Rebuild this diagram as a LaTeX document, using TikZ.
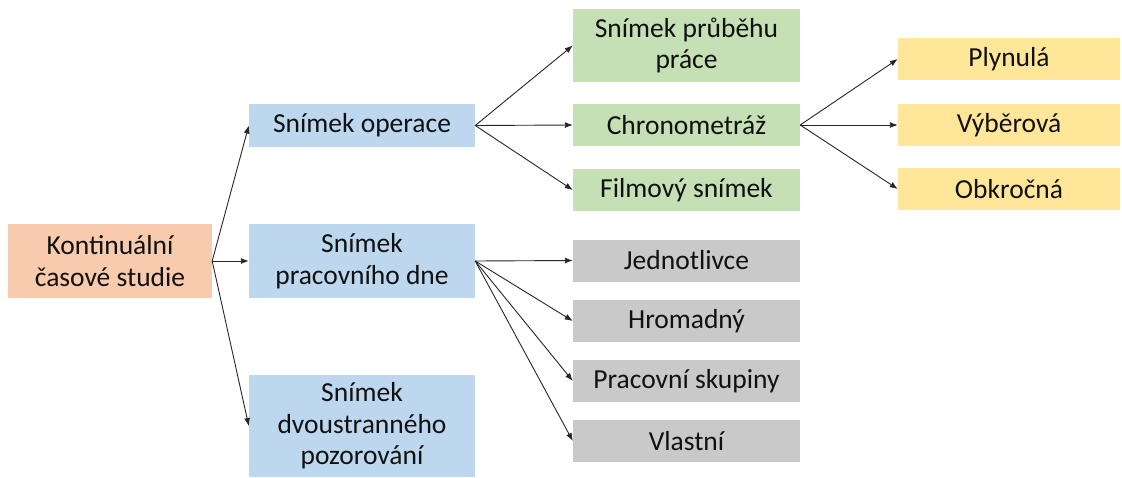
\documentclass[tikz,border=0pt]{standalone}
\usepackage{fontspec}
\setmainfont{Carlito}
\usetikzlibrary{arrows.meta}
\definecolor{corange}{HTML}{F8CBAD}
\definecolor{cblue}{HTML}{BDD7EE}
\definecolor{cgreen}{HTML}{C5E0B4}
\definecolor{cgray}{HTML}{C9C9C9}
\definecolor{cyellow}{HTML}{FFE699}
\definecolor{ctext}{HTML}{111111}
\begin{document}
\begin{tikzpicture}[x=1pt,y=-1pt,
  box/.style={rectangle, inner sep=0pt, align=center, text=ctext,
    font=\fontsize{27.5}{31.5}\selectfont},
  orangebox/.style={box, fill=corange, minimum width=204pt, minimum height=74pt},
  bluebox/.style={box, fill=cblue, minimum width=226pt},
  greenbox/.style={box, fill=cgreen, minimum width=227pt},
  graybox/.style={box, fill=cgray, minimum width=227pt, minimum height=42pt},
  yellowbox/.style={box, fill=cyellow, minimum width=222pt, minimum height=42pt},
  conn/.style={-{Latex[length=8pt,width=6pt]}, line width=0.9pt, draw=black!85}
]
\useasboundingbox (0,0) rectangle (1122,477);

\node[orangebox] (k) at (110,261) {Kontinuální\\časové studie};

\node[bluebox, minimum height=43pt] (so) at (362,125.5) {Snímek operace};
\node[bluebox, minimum height=74pt] (sp) at (362,261) {Snímek\\pracovního dne};
\node[bluebox, minimum height=102pt] (sd) at (362,426) {Snímek\\dvoustranného\\pozorování};

\node[greenbox, minimum height=73pt] (g1) at (686.5,45.5) {Snímek průběhu\\práce};
\node[greenbox, minimum height=42pt] (g2) at (686.5,125) {Chronometráž};
\node[greenbox, minimum height=42pt] (g3) at (686.5,190) {Filmový snímek};

\node[graybox] (j) at (686.5,260.5) {Jednotlivce};
\node[graybox] (h) at (686.5,321) {Hromadný};
\node[graybox] (p) at (686.5,381) {Pracovní skupiny};
\node[graybox] (v) at (686.5,441) {Vlastní};

\node[yellowbox] (y1) at (1009,59) {Plynulá};
\node[yellowbox] (y2) at (1009,125) {Výběrová};
\node[yellowbox] (y3) at (1009,189) {Obkročná};

\draw[conn] (k.east) -- (so.west);
\draw[conn] (k.east) -- (sp.west);
\draw[conn] (k.east) -- (sd.west);

\draw[conn] (so.east) -- (g1.west);
\draw[conn] (so.east) -- (g2.west);
\draw[conn] (so.east) -- (g3.west);

\draw[conn] (sp.east) -- (j.west);
\draw[conn] (sp.east) -- (h.west);
\draw[conn] (sp.east) -- (p.west);
\draw[conn] (sp.east) -- (v.west);

\draw[conn] (g2.east) -- (y1.west);
\draw[conn] (g2.east) -- (y2.west);
\draw[conn] (g2.east) -- (y3.west);
\end{tikzpicture}
\end{document}
